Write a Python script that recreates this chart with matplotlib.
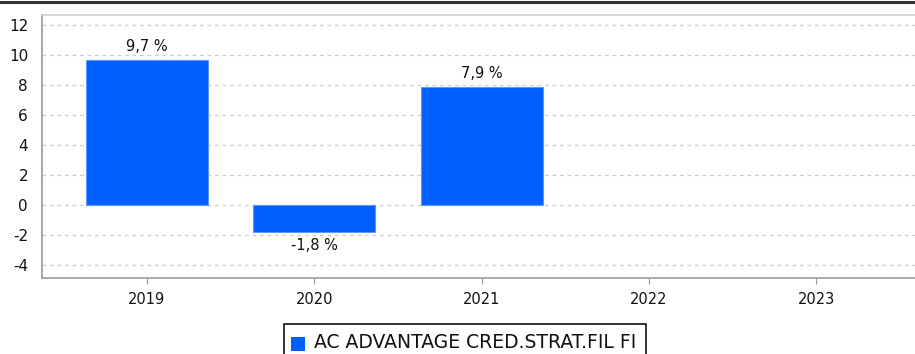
import matplotlib
matplotlib.use("Agg")
import matplotlib.pyplot as plt
from matplotlib.lines import Line2D
from matplotlib.patches import Rectangle

years = ["2019", "2020", "2021", "2022", "2023"]
returns = [9.7, -1.8, 7.9]
value_labels = ["9,7 %", "-1,8 %", "7,9 %"]
series_name = "AC ADVANTAGE CRED.STRAT.FIL FI"
y_ticks = [-4, -2, 0, 2, 4, 6, 8, 10, 12]

bar_color = "#0060ff"
W, H = 915, 354
fig = plt.figure(figsize=(W / 100, H / 100), dpi=100)
plt.rcParams["font.family"] = ["DejaVu Sans"]

left, right, top, bottom = 42, 915, 15, 278
ax = fig.add_axes([left / W, 1 - bottom / H, (right - left) / W, (bottom - top) / H])

x = list(range(len(years)))
ax.bar(x[:len(returns)], returns, width=0.73, color=bar_color,
       edgecolor="#5c95ff", linewidth=0.8, zorder=3)

for xi, v, lab in zip(x, returns, value_labels):
    if v >= 0:
        ax.annotate(lab, (xi, v), xytext=(0, 4), textcoords="offset points",
                    ha="center", va="bottom", fontsize=10.5, color="#111111")
    else:
        ax.annotate(lab, (xi, v), xytext=(0, -4), textcoords="offset points",
                    ha="center", va="top", fontsize=10.5, color="#111111")

ax.set_xlim(-0.627, 4.59)
ax.set_ylim(-4.87, 12.67)
ax.set_xticks(x)
ax.set_xticklabels(years)
ax.set_yticks(y_ticks)
ax.set_yticklabels([str(t) for t in y_ticks])
ax.tick_params(axis="x", labelsize=10.5, labelcolor="#111111")
ax.tick_params(axis="y", labelsize=11, labelcolor="#111111", length=0, pad=10)
ax.tick_params(axis="x", length=4, color="#999999", pad=6)

ax.grid(axis="y", color="#cccccc", linestyle=(0, (3, 3)), linewidth=0.9, zorder=0)
for side in ["left", "bottom", "top"]:
    ax.spines[side].set_color("#9a9a9a")
    ax.spines[side].set_linewidth(1.2)
ax.spines["top"].set_color("#cfcfcf")
ax.spines["right"].set_visible(False)

# dark frame line across the top of the figure
fig.add_artist(Line2D([0, 1], [1 - 2 / H, 1 - 2 / H], color="#333333", linewidth=2.2))

# legend box
lx0, ly0, lx1 = 284, 324, 646
fig.add_artist(Rectangle((lx0 / W, 1 - 356 / H), (lx1 - lx0) / W, (356 - ly0) / H,
                         transform=fig.transFigure, facecolor="white",
                         edgecolor="#111111", linewidth=1.2))
fig.add_artist(Rectangle((291 / W, 1 - 351 / H), 14 / W, 14 / H,
                         transform=fig.transFigure, facecolor=bar_color,
                         edgecolor="none"))
fig.text(314 / W, 1 - 343 / H, series_name, fontsize=13.5, va="center", ha="left",
         color="#111111")

fig.savefig("out.png", dpi=100, facecolor="white")
